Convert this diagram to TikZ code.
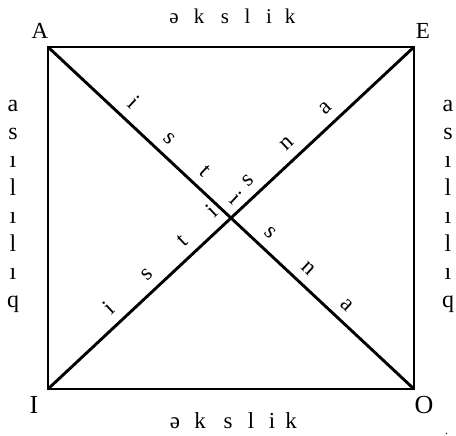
\documentclass[tikz,border=0pt]{standalone}
\usepackage{fontspec}
\setmainfont{Liberation Serif}
\usetikzlibrary{calc}
\begin{document}
\begin{tikzpicture}[x=1pt,y=-1pt,
  edge/.style={line width=2.9pt},
  corner/.style={font=\fontsize{23}{23}\selectfont, anchor=base, inner sep=0pt},
  cornerlow/.style={font=\fontsize{26}{26}\selectfont, anchor=base, inner sep=0pt},
  rowlet/.style={font=\fontsize{21}{21}\selectfont, anchor=base, inner sep=0pt},
  rowletlow/.style={font=\fontsize{23}{23}\selectfont, anchor=base, inner sep=0pt},
  collet/.style={font=\fontsize{24}{24}\selectfont, anchor=base, inner sep=0pt},
  diaglet/.style={font=\fontsize{23}{23}\selectfont, anchor=base, inner sep=0pt, sloped}]
\useasboundingbox (0,0) rectangle (456,436);
\coordinate (A) at (48,47);
\coordinate (E) at (414,47);
\coordinate (I) at (48,389);
\coordinate (O) at (414,389);
\draw[edge, line join=miter] (A) -- (E) -- (O) -- (I) -- cycle;
\draw[edge] (A) -- (O);
\draw[edge] (I) -- (E);
% corner labels
\node[corner] (lA) at (40,39) {A};
\node[corner] (lE) at (423,39) {E};
\node[cornerlow] (lI) at (34,413) {I};
\node[cornerlow] (lO) at (424,413) {O};
% top and bottom words
\foreach \x/\c [count=\i] in {174/ə,199/k,225/s,247.5/l,269/i,290/k}
  \node[rowlet] (t\i) at (\x,24) {\c};
\foreach \x/\c [count=\i] in {175/ə,200/k,228/s,251/l,272/i,291/k}
  \node[rowletlow] (b\i) at (\x,428) {\c};
% side columns
\foreach \c [count=\i] in {a,s,ı,l,ı,l,ı,q}
  \node[collet] (l\i) at (13,{111.7+27.9*(\i-1)}) {\c};
\foreach \c [count=\i] in {a,s,ı,l,ı,l,ı,q}
  \node[collet] (r\i) at (448,{111.7+27.9*(\i-1)}) {\c};
% diagonal words
\coordinate (A2) at ($(A)+(7.2,-7.7)$);
\coordinate (O2) at ($(O)+(7.2,-7.7)$);
\coordinate (I2) at ($(I)+(-7.2,-7.7)$);
\coordinate (E2) at ($(E)+(-7.2,-7.7)$);
\path (A2) -- (O2)
  node[diaglet,pos=0.200] (p1) {i}
  node[diaglet,pos=0.301] (p2) {s}
  node[diaglet,pos=0.399] (p3) {t}
  node[diaglet,pos=0.481] (p4) {i}
  node[diaglet,pos=0.577] (p5) {s}
  node[diaglet,pos=0.683] (p6) {n}
  node[diaglet,pos=0.788] (p7) {a};
\path (I2) -- (E2)
  node[diaglet,pos=0.200] (q1) {i}
  node[diaglet,pos=0.301] (q2) {s}
  node[diaglet,pos=0.399] (q3) {t}
  node[diaglet,pos=0.481] (q4) {i}
  node[diaglet,pos=0.577] (q5) {s}
  node[diaglet,pos=0.683] (q6) {n}
  node[diaglet,pos=0.788] (q7) {a};
\node[font=\fontsize{12}{12}\selectfont, anchor=base, inner sep=0pt] (dot) at (446.7,434.5) {.};
\end{tikzpicture}
\end{document}
